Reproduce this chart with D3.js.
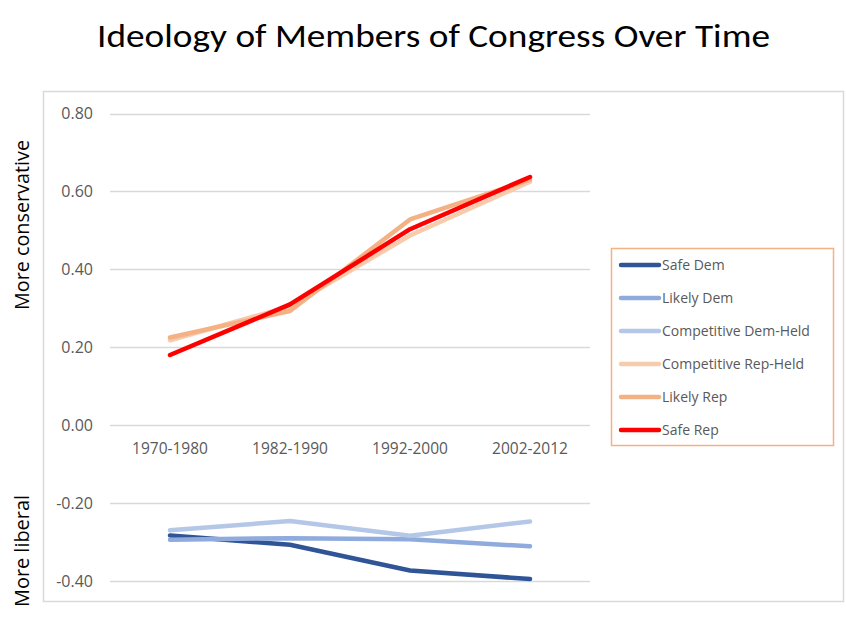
<!DOCTYPE html>
<html>

<head>
  <title>Ideology of Members of Congress Over Time</title>
  <script src="https://cdn.jsdelivr.net/npm/d3@7"></script>
  <style type="text/css">
    body {
      margin: 0;
      background: #fff;
    }

    text {
      font-family: "Open Sans", "Segoe UI", sans-serif;
    }

    .title {
      font-family: Calibri, Carlito, "Open Sans", sans-serif;
    }
  </style>
</head>

<body>
  <div id="chartArea"></div>
  <script type="text/javascript">
    // periods on the x axis
    let periods = ['1970-1980', '1982-1990', '1992-2000', '2002-2012'];

    // series names, in drawing order
    let seriesNames = ['Safe Dem', 'Likely Dem', 'Competitive Dem-Held',
      'Competitive Rep-Held', 'Likely Rep', 'Safe Rep'];

    let safeDem = [-0.283, -0.307, -0.373, -0.395];
    let likelyDem = [-0.294, -0.290, -0.293, -0.311];
    let compDem = [-0.270, -0.246, -0.284, -0.247];
    let compRep = [0.218, 0.305, 0.487, 0.625];
    let likelyRep = [0.225, 0.293, 0.528, 0.630];
    let safeRep = [0.180, 0.310, 0.503, 0.637];

    let yTicks = [-0.4, -0.2, 0, 0.2, 0.4, 0.6, 0.8];

    let colors = ['#2F5597', '#8FAADC', '#B4C7E7', '#F8CBAD', '#F4B183', '#FF0000'];

    let allSeries = [safeDem, likelyDem, compDem, compRep, likelyRep, safeRep];

    let W = 846, H = 629;

    let svg = d3.select('#chartArea').append('svg')
      .attr('width', W)
      .attr('height', H);

    // chart frame
    svg.append('rect')
      .attr('x', 43.5).attr('y', 91.5)
      .attr('width', 800).attr('height', 510)
      .attr('fill', '#fff')
      .attr('stroke', '#D9D9D9')
      .attr('stroke-width', 1.5);

    // title
    svg.append('text')
      .attr('class', 'title')
      .attr('x', 97).attr('y', 47)
      .attr('font-size', 32)
      .attr('fill', '#000')
      .attr('textLength', 673)
      .attr('lengthAdjust', 'spacingAndGlyphs')
      .text('Ideology of Members of Congress Over Time');

    let xScale = d3.scaleBand()
      .domain(periods)
      .range([110, 590]);

    let yScale = d3.scaleLinear()
      .domain([-0.4, 0.8])
      .range([581, 113.5]);

    let fmt = d3.formatLocale({
      decimal: '.', thousands: ',', grouping: [3],
      currency: ['$', ''], minus: '-'
    }).format('.2f');

    // gridlines
    svg.append('g')
      .selectAll('line')
      .data(yTicks)
      .enter()
      .append('line')
      .attr('x1', 110)
      .attr('x2', 590)
      .attr('y1', d => Math.round(yScale(d)) + 0.5)
      .attr('y2', d => Math.round(yScale(d)) + 0.5)
      .attr('stroke', '#D9D9D9')
      .attr('stroke-width', 1.5);

    // y tick labels
    svg.append('g')
      .selectAll('text')
      .data(yTicks)
      .enter()
      .append('text')
      .attr('x', 93)
      .attr('y', d => yScale(d))
      .attr('dy', '0.35em')
      .attr('text-anchor', 'end')
      .attr('font-size', 16)
      .attr('fill', '#595959')
      .text(d => fmt(d));

    // category labels
    svg.append('g')
      .selectAll('text')
      .data(periods)
      .enter()
      .append('text')
      .attr('x', d => xScale(d) + xScale.bandwidth() / 2)
      .attr('y', yScale(0) + 23)
      .attr('dy', '0.35em')
      .attr('text-anchor', 'middle')
      .attr('font-size', 15.5)
      .attr('fill', '#595959')
      .text(d => d);

    // axis titles
    svg.append('text')
      .attr('transform', 'translate(29,225) rotate(-90)')
      .attr('text-anchor', 'middle')
      .attr('font-size', 20)
      .attr('fill', '#000')
      .attr('textLength', 170)
      .attr('lengthAdjust', 'spacingAndGlyphs')
      .text('More conservative');

    svg.append('text')
      .attr('transform', 'translate(29,551) rotate(-90)')
      .attr('text-anchor', 'middle')
      .attr('font-size', 20)
      .attr('fill', '#000')
      .attr('textLength', 112)
      .attr('lengthAdjust', 'spacingAndGlyphs')
      .text('More liberal');

    // lines
    let line = d3.line()
      .x((d, i) => xScale(periods[i]) + xScale.bandwidth() / 2)
      .y(d => yScale(d));

    svg.append('g')
      .selectAll('path')
      .data(allSeries)
      .enter()
      .append('path')
      .attr('d', line)
      .attr('fill', 'none')
      .attr('stroke', (d, i) => colors[i])
      .attr('stroke-width', 4.5)
      .attr('stroke-linecap', 'round')
      .attr('stroke-linejoin', 'round');

    // legend
    let legend = svg.append('g');

    legend.append('rect')
      .attr('x', 611.5).attr('y', 248.5)
      .attr('width', 222).attr('height', 197)
      .attr('fill', '#fff')
      .attr('stroke', '#F4B183')
      .attr('stroke-width', 1.5);

    let items = legend.selectAll('g.item')
      .data(seriesNames)
      .enter()
      .append('g')
      .attr('class', 'item')
      .attr('transform', (d, i) => `translate(0, ${265 + i * 33})`);

    items.append('line')
      .attr('x1', 621).attr('x2', 659)
      .attr('y1', 0).attr('y2', 0)
      .attr('stroke', (d, i) => colors[i])
      .attr('stroke-width', 4.5)
      .attr('stroke-linecap', 'round');

    items.append('text')
      .attr('x', 662)
      .attr('y', 0)
      .attr('dy', '0.35em')
      .attr('font-size', 14)
      .attr('fill', '#595959')
      .text(d => d);
  </script>
</body>

</html>
